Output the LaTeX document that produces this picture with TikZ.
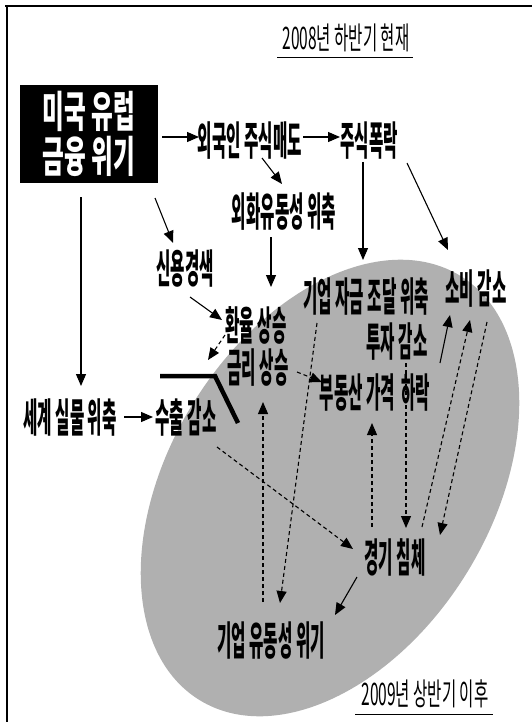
\documentclass[tikz,border=0pt]{standalone}
\usepackage{fontspec}
\newfontfamily\kor[FakeStretch=0.39]{Noto Sans CJK KR}
\newfontfamily\korbox[FakeStretch=0.55]{Noto Sans CJK KR}
\newfontfamily\kortitle[FakeStretch=0.5]{Noto Sans CJK KR}
\usetikzlibrary{arrows.meta,calc}
\definecolor{ellgray}{gray}{0.69}
\begin{document}
\begin{tikzpicture}[x=1pt,y=-1pt,
  lbl/.style={inner sep=0pt, font={\kor\fontsize{40}{40}\selectfont\bfseries}},
  ttl/.style={inner sep=0pt, font={\kortitle\fontsize{31}{31}\selectfont}},
  arr/.style={line width=1.1pt, -{Triangle[length=12pt,width=10pt]}},
  darr/.style={arr, dash pattern=on 4pt off 3pt},
  frame/.style={line width=1.3pt},
  uline/.style={line width=1pt}]
\useasboundingbox (0,0) rectangle (532,722);
% frame
\draw[frame] (5,6) -- (532,6);
\draw[frame] (7,6) -- (7,722);
% gray ellipse
\fill[ellgray, rotate around={58.4:(330,488)}] (330,488) ellipse [x radius=249, y radius=161];
% titles
\node[ttl] (t1) at (346,38) {2008년 하반기 현재};
\draw[uline] ($(t1)+(-69,20)$) -- ($(t1)+(67,20)$);
\node[ttl] (t2) at (425,694) {2009년 상반기 이후};
\draw[uline] ($(t2)+(-70,20)$) -- ($(t2)+(68,20)$);
% box
\node[fill=black, text=white, minimum width=138pt, minimum height=98pt, inner sep=0pt,
      align=center, font={\korbox\fontsize{43}{45}\selectfont\bfseries}] (box) at (89,134)
      {미국 유럽\\금융 위기};
% labels
\node[lbl] (sell)   at (250,141) {외국인 주식매도};
\node[lbl] (crash)  at (369,141) {주식폭락};
\node[lbl] (fx)     at (284,212) {외화유동성 위축};
\node[lbl] (credit) at (185,269) {신용경색};
\node[lbl] (exch)   at (256,325) {환율 상승};
\node[lbl] (rate)   at (258,368) {금리 상승};
\node[lbl] (world)  at (70,418)  {세계 실물 위축};
\node[lbl] (export) at (186,418) {수출 감소};
\node[lbl] (fund)   at (366,297) {기업 자금 조달 위축};
\node[lbl] (cons)   at (476,289) {소비 감소};
\node[lbl] (inv)    at (397,342) {투자 감소};
\node[lbl] (real)   at (375,393) {부동산 가격\hspace{6pt}하락};
\node[lbl] (rec)    at (395,557) {경기 침체};
\node[lbl] (liq)    at (271,641) {기업 유동성 위기};
% thick bar
\draw[line width=4.5pt] ($(export)+(-26,-42)$) -- ($(export)+(29,-42)$) -- ($(export)+(52,5)$);
% solid arrows
\draw[arr] ($(box)+(73,3)$) -- ($(sell)+(-51,-4)$);
\draw[arr] ($(sell)+(53,-4)$) -- ($(crash)+(-29,-4)$);
\draw[arr] ($(sell)+(12,17)$) -- ($(fx)+(-2,-28)$);
\draw[arr] ($(box)+(66,64)$) -- ($(credit)+(-12,-26)$);
\draw[arr] ($(box)+(-8,63)$) -- ($(world)+(11,-32)$);
\draw[arr] ($(fx)+(-13,25)$) -- ($(exch)+(15,-38)$);
\draw[arr] ($(credit)+(5,28)$) -- ($(exch)+(-34,-5)$);
\draw[arr] ($(world)+(54,-1)$) -- ($(export)+(-33,-1)$);
\draw[arr] ($(crash)+(-6,21)$) -- ($(fund)+(-3,-37)$);
\draw[arr] ($(crash)+(38,22)$) -- ($(cons)+(-28,-39)$);
\draw[arr] ($(rec)+(-38,20)$) -- ($(liq)+(64,-26)$);
\draw[arr] ($(inv)+(43,21)$) -- ($(cons)+(-26,26)$);
% dashed arrows
\draw[darr] ($(exch)+(-31,10)$) -- ($(export)+(22,-58)$);
\draw[darr] ($(rate)+(39,4)$) -- ($(real)+(-53,-11)$);
\draw[darr] ($(fund)+(-49,26)$) -- ($(liq)+(9,-38)$);
\draw[darr] ($(liq)+(-8,-39)$) -- ($(rate)+(5,34)$);
\draw[darr] ($(export)+(31,29)$) -- ($(rec)+(-42,-8)$);
\draw[darr] ($(rec)+(-23,-30)$) -- ($(real)+(-3,30)$);
\draw[darr] ($(inv)+(9,21)$) -- ($(rec)+(11,-29)$);
\draw[darr] ($(rec)+(27,-30)$) -- ($(cons)+(-6,31)$);
\draw[darr] ($(cons)+(11,33)$) -- ($(rec)+(45,-22)$);
\end{tikzpicture}
\end{document}
